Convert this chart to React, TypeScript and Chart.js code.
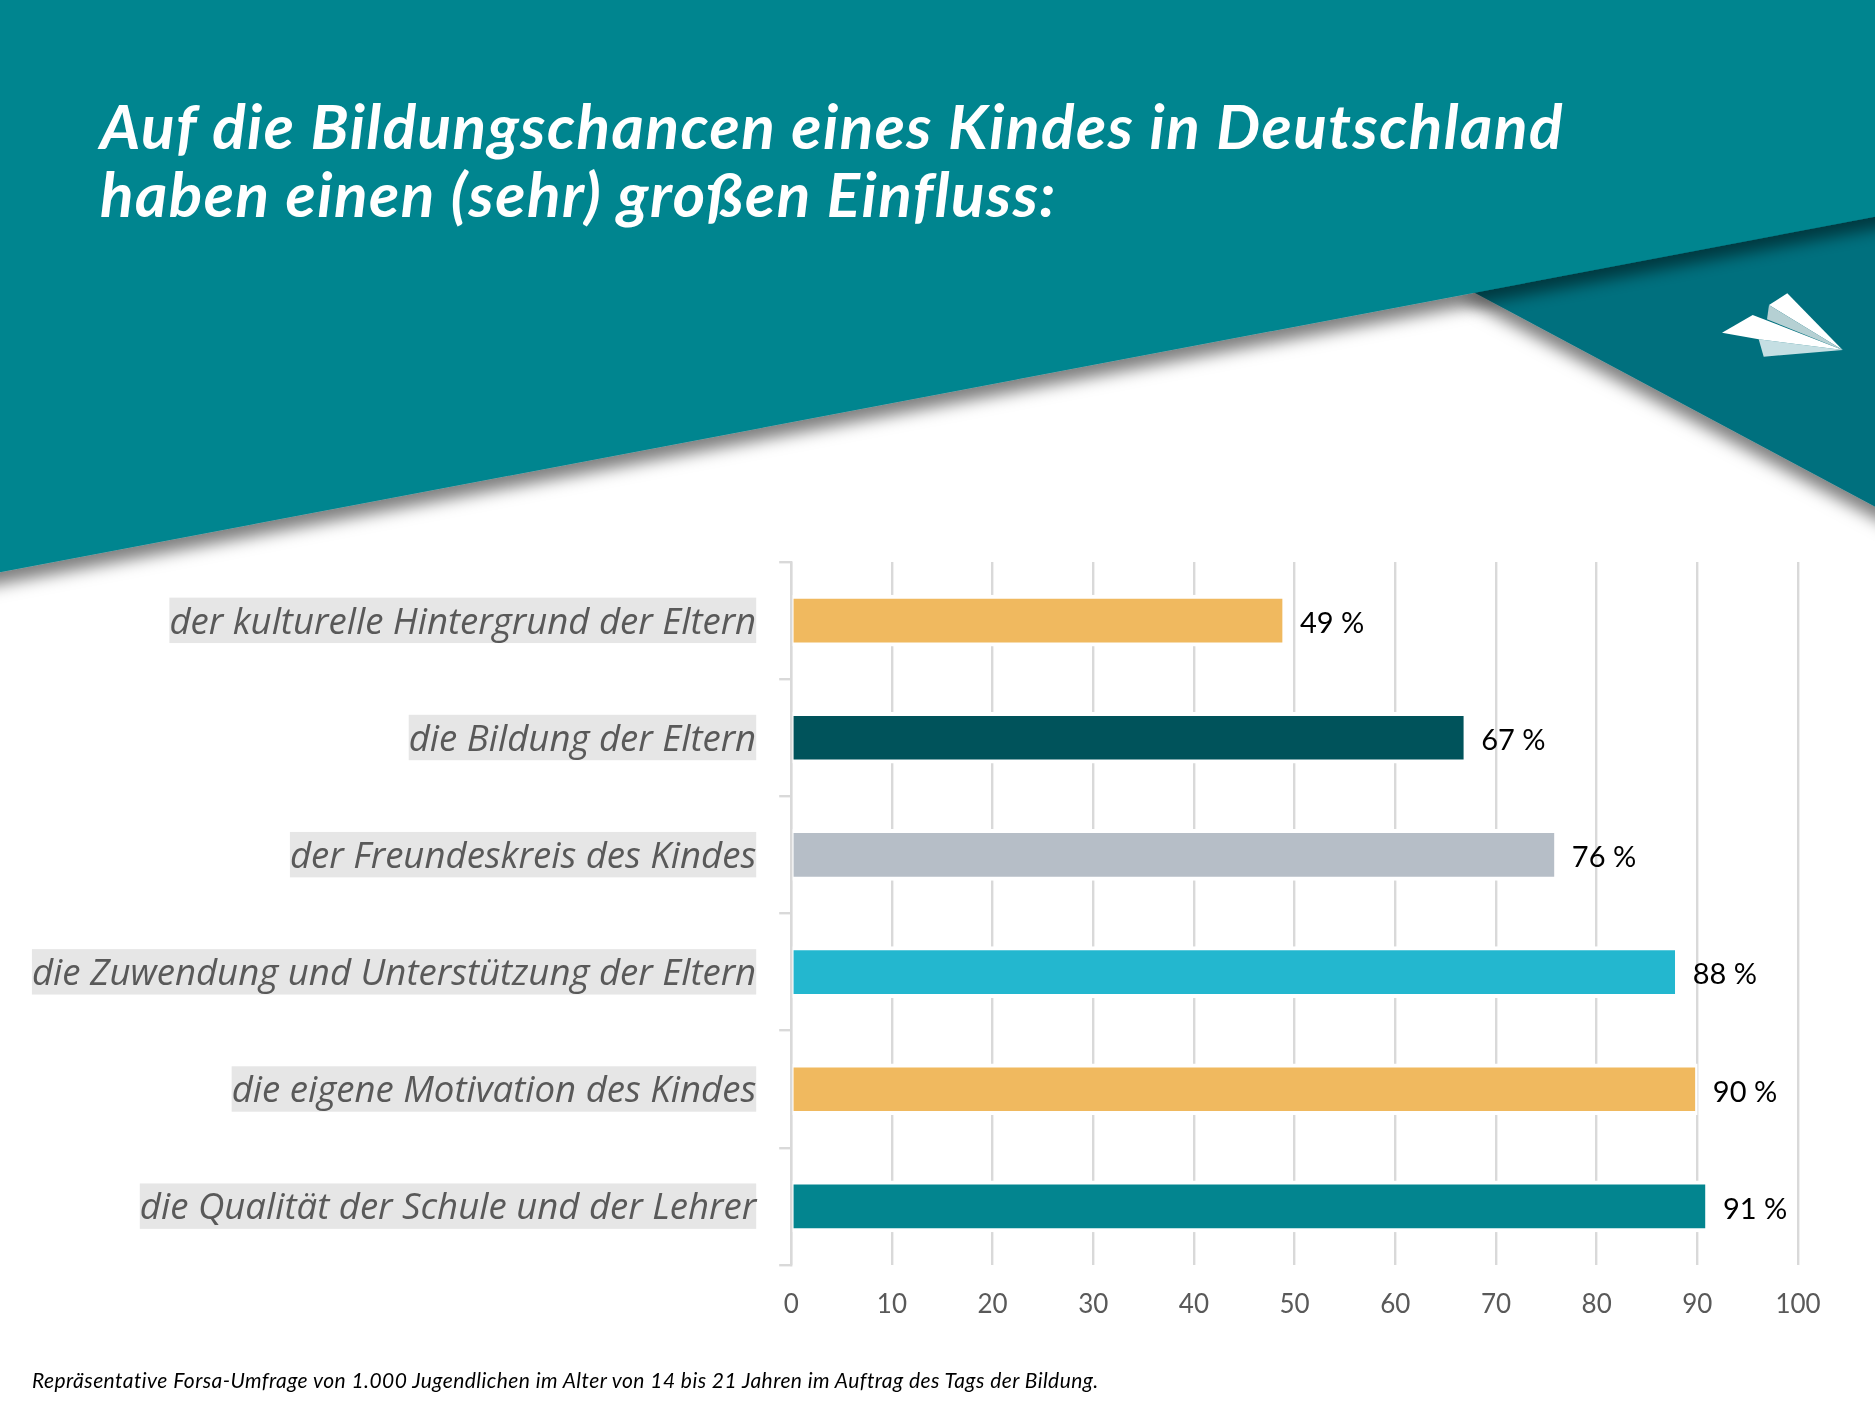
import React, { useEffect, useRef } from 'react';
import { Chart, registerables } from 'chart.js';

Chart.register(...registerables);

const categories = [
  'der kulturelle Hintergrund der Eltern',
  'die Bildung der Eltern',
  'der Freundeskreis des Kindes',
  'die Zuwendung und Unterstützung der Eltern',
  'die eigene Motivation des Kindes',
  'die Qualität der Schule und der Lehrer',
];
const values = [49, 67, 76, 88, 90, 91];
const barColors = ['#f0b95f', '#00535b', '#b6bec7', '#23b7cf', '#f0b95f', '#03858f'];
const titleLines = ['Auf die Bildungschancen eines Kindes in Deutschland', 'haben einen (sehr) großen Einfluss:'];
const footnote = 'Repräsentative Forsa-Umfrage von 1.000 Jugendlichen im Alter von 14 bis 21 Jahren im Auftrag des Tags der Bildung.';

const GREY = '#d9d9d9';

// writes "49 %" next to each bar end
const valueLabels = {
  id: 'valueLabels',
  afterDatasetsDraw(chart: Chart) {
    const { ctx } = chart;
    const meta = chart.getDatasetMeta(0);
    ctx.save();
    ctx.font = '29px Lato';
    ctx.fillStyle = '#000000';
    ctx.textBaseline = 'middle';
    meta.data.forEach((bar: any, i: number) => {
      ctx.fillText(`${values[i]} %`, bar.x + 15.5, bar.y + 3);
    });
    ctx.restore();
  },
};

const App: React.FC = () => {
  const canvasRef = useRef<HTMLCanvasElement>(null);

  useEffect(() => {
    if (!canvasRef.current) return;
    const chart = new Chart(canvasRef.current, {
      type: 'bar',
      data: {
        labels: categories,
        datasets: [{
          data: values,
          backgroundColor: barColors,
          borderColor: '#ffffff',
          borderWidth: { top: 4, bottom: 4, left: 1.5, right: 2.5 },
          borderSkipped: false,
          barThickness: 51,
        }],
      },
      options: {
        indexAxis: 'y',
        animation: false,
        responsive: false,
        devicePixelRatio: 1,
        layout: { padding: { top: 562, right: 77, left: 0, bottom: 0 } },
        plugins: { legend: { display: false }, tooltip: { enabled: false } },
        scales: {
          x: {
            min: 0,
            max: 100,
            afterFit: (s: any) => { s.height = 142; },
            grid: { color: GREY, lineWidth: 2.4, drawTicks: false },
            border: { display: false },
            ticks: { stepSize: 10, color: '#595959', font: { family: 'Lato', size: 26 }, padding: 24, maxRotation: 0 },
          },
          y: {
            afterFit: (s: any) => { s.width = 791.2; },
            grid: { color: GREY, lineWidth: 2.4, drawOnChartArea: false, tickLength: 12 },
            border: { color: GREY, width: 2.4, z: 1 },
            ticks: {
              autoSkip: false,
              color: '#595959',
              font: { family: 'Open Sans', size: 36.6, style: 'italic' },
              padding: 23,
              labelOffset: 2.5,
              showLabelBackdrop: true,
              backdropColor: '#e6e6e6',
              backdropPadding: { top: 3.5, bottom: -2, left: 0, right: 0 },
            },
          },
        },
      } as any,
      plugins: [valueLabels],
    });
    return () => chart.destroy();
  }, []);

  return (
    <div style={{ position: 'absolute', left: 0, top: 0, width: 1875, height: 1407, overflow: 'hidden', background: '#ffffff' }}>
      <svg width={1875} height={1407} style={{ position: 'absolute', left: 0, top: 0 }}>
        <defs>
          <filter id="edge" x="-10%" y="-10%" width="120%" height="130%">
            <feDropShadow dx="0" dy="12" stdDeviation="8" floodColor="#000000" floodOpacity="0.5" />
          </filter>
        </defs>
        <polygon points="1460,285 1900,200 1900,520" fill="#00707e" filter="url(#edge)" />
        <polygon points="-20,-20 1900,-20 1900,212 -20,576" fill="#03858f" filter="url(#edge)" />
        <g transform="translate(2 0)">
          <polygon points="1785.3,293.3 1767,305 1840.7,350" fill="#ffffff" />
          <polygon points="1767,305 1765,319.3 1840.7,350" fill="#b5d0d3" />
          <polygon points="1756.7,339.3 1761.7,356.7 1840.7,350" fill="#c5dfe3" />
          <polygon points="1720,332.7 1750.7,315 1840.7,350 1756.7,339.3" fill="#ffffff" />
        </g>
      </svg>
      <canvas ref={canvasRef} width={1875} height={1407} style={{ position: 'absolute', left: 0, top: 0, width: 1875, height: 1407 }} />
      <div style={{ position: 'absolute', left: 100, top: 91, color: '#ffffff', font: 'italic 700 62px/68px Lato', letterSpacing: 1.5, whiteSpace: 'pre' }}>
        {titleLines.join('\n')}
      </div>
      <div style={{ position: 'absolute', left: 32, top: 1368, color: '#000000', font: 'italic 400 21px/24px Lato', letterSpacing: 0.44, whiteSpace: 'pre' }}>
        {footnote}
      </div>
    </div>
  );
};

export default App;
